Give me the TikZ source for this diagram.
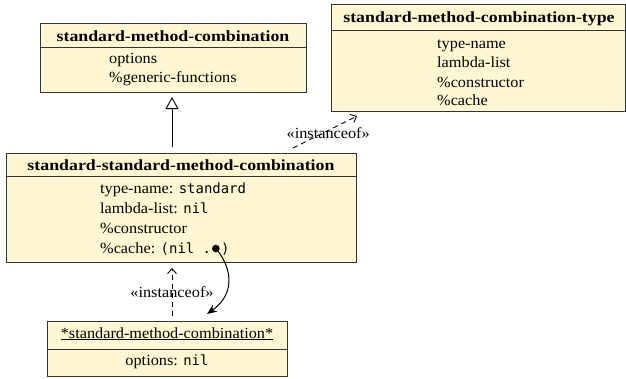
\documentclass[tikz,border=0pt]{standalone}
\usepackage{fontspec}
\setmainfont{Liberation Serif}[FakeStretch=1.05, BoldFeatures={FakeStretch=1.15}]
\setmonofont{DejaVu Sans Mono}[Scale=0.9]
\usetikzlibrary{arrows.meta,positioning,calc}
\definecolor{boxfill}{HTML}{FFF7D2}
\definecolor{boxline}{HTML}{333333}
\tikzset{
  umlbox/.style={draw=boxline, fill=boxfill, line width=0.9pt, inner sep=0pt, outer sep=0pt, anchor=north west},
  sepline/.style={draw=boxline, line width=0.9pt},
  hdr/.style={font=\fontsize{15.5}{18}\selectfont\bfseries, inner sep=0pt, anchor=base},
  attr/.style={font=\fontsize{15.5}{18}\selectfont, inner sep=0pt, anchor=base west},
  attrc/.style={font=\fontsize{15.5}{18}\selectfont, inner sep=0pt, anchor=base},
  lbl/.style={font=\fontsize{15.5}{18}\selectfont, inner sep=0pt},
  gen/.style={line width=0.9pt, -{Triangle[open, width=13pt, length=12pt]}},
  inst/.style={line width=0.9pt, dashed, dash pattern=on 5pt off 4pt, -{Straight Barb[length=5pt,width=9pt]}},
  ref/.style={line width=1pt, -{Stealth[length=10pt,width=8pt]}}
}
\begin{document}
\begin{tikzpicture}[x=1pt,y=-1pt]
\useasboundingbox (0,0) rectangle (626,378);
% box 1
\node[umlbox, minimum width=266pt, minimum height=69pt] (b1) at (40,23) {};
\draw[sepline] (40,47) -- (306,47);
\node[hdr] (b1h) at (173,41) {standard-method-combination};
\node[attr] (b1a) at (109,63) {options};
\node[attr] (b1b) at (109,82) {\%generic-functions};
% box 2
\node[umlbox, minimum width=294pt, minimum height=107pt] (b2) at (331,4) {};
\draw[sepline] (331,30) -- (625,30);
\node[hdr] (b2h) at (479,22) {standard-method-combination-type};
\node[attr] (b2a) at (437,48) {type-name};
\node[attr] (b2b) at (437,67) {lambda-list};
\node[attr] (b2c) at (437,87) {\%constructor};
\node[attr] (b2d) at (437,105) {\%cache};
% box 3
\node[umlbox, minimum width=350pt, minimum height=109pt] (b3) at (6,153) {};
\draw[sepline] (6,176) -- (356,176);
\node[hdr] (b3h) at (181,170) {standard-standard-method-combination};
\node[attr] (b3a) at (100,193) {type-name: \texttt{standard}};
\node[attr] (b3b) at (100,213) {lambda-list: \texttt{nil}};
\node[attr] (b3c) at (100,233) {\%constructor};
\node[attr] (b3d) at (100,253) {\%cache: \texttt{(nil .}};
\coordinate (bul) at ($(b3d.base east)+(4.5,-4.5)$);
\fill (bul) circle (3.8pt);
\node[attr] (b3e) at ($(b3d.base east)+(9.5,0)$) {\texttt{)}};
% box 4
\node[umlbox, minimum width=240pt, minimum height=55pt] (b4) at (47,321) {};
\draw[sepline] (47,349) -- (287,349);
\node[attrc] (b4h) at (167,338) {\underline{*standard-method-combination*}};
\node[attrc] (b4a) at (167,365) {options: \texttt{nil}};
% connectors
\coordinate (g1) at (172,147);
\coordinate (g2) at (172,97);
\draw[gen] (g1) -- (g2);
\coordinate (i1) at (293,148);
\coordinate (i2) at (357,116);
\draw[inst] (i1) -- node[lbl, pos=0.55, yshift=-3pt] (l1) {«instanceof»} (i2);
\coordinate (j1) at (172,316);
\coordinate (j2) at (172,268);
\draw[inst] (j1) -- node[lbl, pos=0.5] (l2) {«instanceof»} (j2);
\coordinate (r2) at (207,314);
\draw[ref] (bul) .. controls ($(bul)+(14,16)$) and (238,292) .. (r2);
\end{tikzpicture}
\end{document}
